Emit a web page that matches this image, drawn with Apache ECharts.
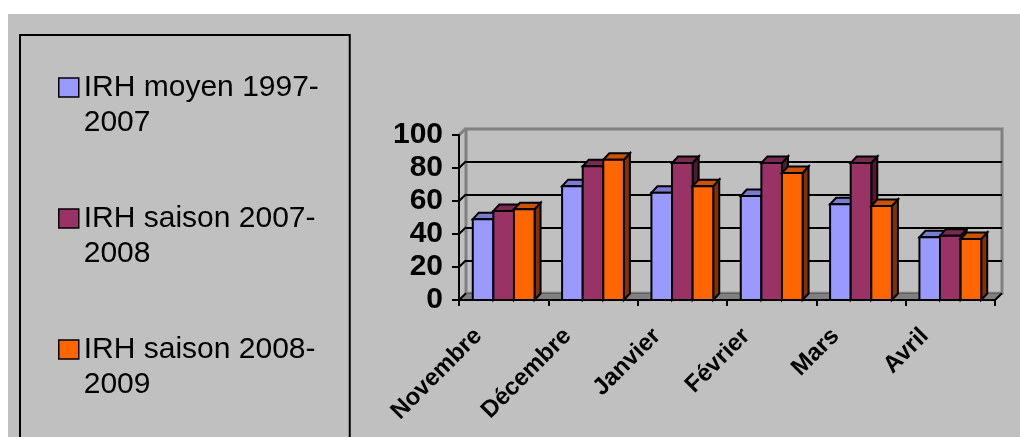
<!DOCTYPE html>
<html>
<head>
<meta charset="utf-8">
<script src="https://cdn.jsdelivr.net/npm/echarts@6/dist/echarts.min.js"></script>
<style>
  html, body { margin: 0; padding: 0; background: #fff; }
  #chart { width: 1020px; height: 437px; }
</style>
</head>
<body>
<div id="chart"></div>
<script>
// Monthly IRH values, one array per season
const months = ['Novembre', 'Décembre', 'Janvier', 'Février', 'Mars', 'Avril'];
const irhMoyen = [49, 69, 65, 63, 58, 38];
const irh0708 = [54, 81, 83, 83, 83, 39];
const irh0809 = [55, 85, 69, 77, 57, 37];
const seriesNames = ['IRH moyen 1997-2007', 'IRH saison 2007-2008', 'IRH saison 2008-2009'];
const yTicks = [0, 20, 40, 60, 80, 100];

// Face colours: front, top, side
const palette = [
  { front: '#9999ff', top: '#7b7bd6', side: '#4d4d80' },
  { front: '#993366', top: '#7a2952', side: '#4d1a33' },
  { front: '#ff6600', top: '#cc5200', side: '#803300' }
];

const FONT = '"Liberation Sans", Arial, sans-serif';
const WALL_DX = 7, WALL_DY = 6.7;   // depth of the back wall
const BAR_DX = 6, BAR_DY = 6.5;     // depth of each column
const BAR_RATIO = 0.2306;           // column width as part of a category band

function columnRenderer(idx) {
  const c = palette[idx];
  return function (params, api) {
    const cat = api.value(0);
    const top = api.coord([cat, api.value(1)]);
    const base = api.coord([cat, 0]);
    const band = api.size([1, 0])[0];
    const w = band * BAR_RATIO;
    const x0 = top[0] + (idx - 1.5) * w;
    const x1 = x0 + w;
    const yt = top[1], yb = base[1];
    const stroke = { stroke: '#000', lineWidth: 2, lineJoin: 'miter' };
    return {
      type: 'group',
      children: [
        { type: 'polygon', shape: { points: [[x1, yt], [x1 + BAR_DX, yt - BAR_DY], [x1 + BAR_DX, yb - BAR_DY], [x1, yb]] },
          style: Object.assign({ fill: c.side }, stroke) },
        { type: 'polygon', shape: { points: [[x0, yt], [x1, yt], [x1 + BAR_DX, yt - BAR_DY], [x0 + BAR_DX, yt - BAR_DY]] },
          style: Object.assign({ fill: c.top }, stroke) },
        { type: 'rect', shape: { x: x0, y: yt, width: w, height: yb - yt },
          style: Object.assign({ fill: c.front }, stroke) }
      ]
    };
  };
}

// Floor and side-wall edges, one item per value tick
function frameRenderer(params, api) {
  const cs = params.coordSys;
  const v = api.value(1);
  const y = api.coord([0, v])[1];
  const xl = cs.x;
  const children = [];
  if (v === 0) {
    const xr = cs.x + cs.width;
    children.push({ type: 'polygon', shape: { points: [[xl, y], [xr, y], [xr + WALL_DX, y - WALL_DY], [xl + WALL_DX, y - WALL_DY]] },
      style: { fill: '#808080' } });
    children.push({ type: 'line', shape: { x1: xr, y1: y, x2: xr + WALL_DX, y2: y - WALL_DY },
      style: { stroke: '#000', lineWidth: 2 } });
  }
  children.push({ type: 'line', shape: { x1: xl, y1: y, x2: xl + WALL_DX, y2: y - WALL_DY },
    style: { stroke: v === 100 ? '#808080' : '#000', lineWidth: v === 100 ? 3 : 2 } });
  return { type: 'group', children: children };
}

const chart = echarts.init(document.getElementById('chart'), null, { renderer: 'canvas' });

const columnData = [irhMoyen, irh0708, irh0809];

chart.setOption({
  animation: false,
  backgroundColor: '#ffffff',
  textStyle: { fontFamily: FONT },
  graphic: {
    elements: [{ type: 'rect', z: -100, shape: { x: 8, y: 14, width: 1012, height: 423 }, style: { fill: '#c0c0c0' } }]
  },
  legend: {
    orient: 'vertical',
    left: 20,
    top: 35,
    height: 800,
    padding: [0, 21, 60, 38],
    itemGap: 26,
    itemWidth: 20,
    itemHeight: 19,
    icon: 'rect',
    selectedMode: false,
    borderColor: '#000',
    borderWidth: 2,
    itemStyle: { borderColor: '#000', borderWidth: 1.5 },
    data: seriesNames,
    // blank first line keeps the first text line level with the swatch
    formatter: function (name) { return '\n' + name.replace('-', '-\n'); },
    textStyle: {
      fontFamily: FONT,
      fontSize: 30,
      lineHeight: 35,
      color: '#000',
      width: 245
    }
  },
  grid: [
    { left: 459, right: 25, top: 135, bottom: 137 },
    { left: 459 + WALL_DX, right: 25 - WALL_DX, top: 129, bottom: 137 + WALL_DY,
      show: true, borderColor: '#808080', borderWidth: 3, backgroundColor: 'transparent' }
  ],
  xAxis: [
    {
      type: 'category', gridIndex: 0, data: months, z: 5,
      axisLine: { show: true, lineStyle: { color: '#000', width: 2 } },
      axisTick: { show: true, length: 6, lineStyle: { color: '#000', width: 2 } },
      axisLabel: {
        interval: 0, rotate: 45, margin: 7,
        padding: [0, 36, 0, 0],
        fontFamily: FONT, fontSize: 24, fontWeight: 'bold', color: '#000'
      },
      splitLine: { show: false }
    },
    {
      type: 'category', gridIndex: 1, data: months, show: false
    }
  ],
  yAxis: [
    {
      type: 'value', gridIndex: 0, min: 0, max: 100, interval: 20, z: 5,
      axisLine: { show: true, lineStyle: { color: '#000', width: 2 } },
      axisTick: { show: true, length: 7, lineStyle: { color: '#000', width: 2 } },
      axisLabel: { margin: 16, fontFamily: FONT, fontSize: 30, fontWeight: 'bold', color: '#000' },
      splitLine: { show: false }
    },
    {
      type: 'value', gridIndex: 1, min: 0, max: 100, interval: 20,
      axisLine: { show: false }, axisTick: { show: false }, axisLabel: { show: false },
      splitLine: { show: true, lineStyle: { color: ['#000', '#000', '#000', '#000', '#000', '#808080'], width: 2 } }
    }
  ],
  series: [
    {
      type: 'custom', name: 'frame', xAxisIndex: 0, yAxisIndex: 0, z: 1, silent: true,
      renderItem: frameRenderer,
      data: yTicks.map(function (v) { return [0, v]; })
    }
  ].concat(seriesNames.map(function (name, i) {
    return {
      type: 'custom', name: name, xAxisIndex: 0, yAxisIndex: 0, z: 2 + i,
      itemStyle: { color: palette[i].front },
      renderItem: columnRenderer(i),
      data: columnData[i].map(function (v, k) { return [k, v]; })
    };
  }))
});
</script>
</body>
</html>
